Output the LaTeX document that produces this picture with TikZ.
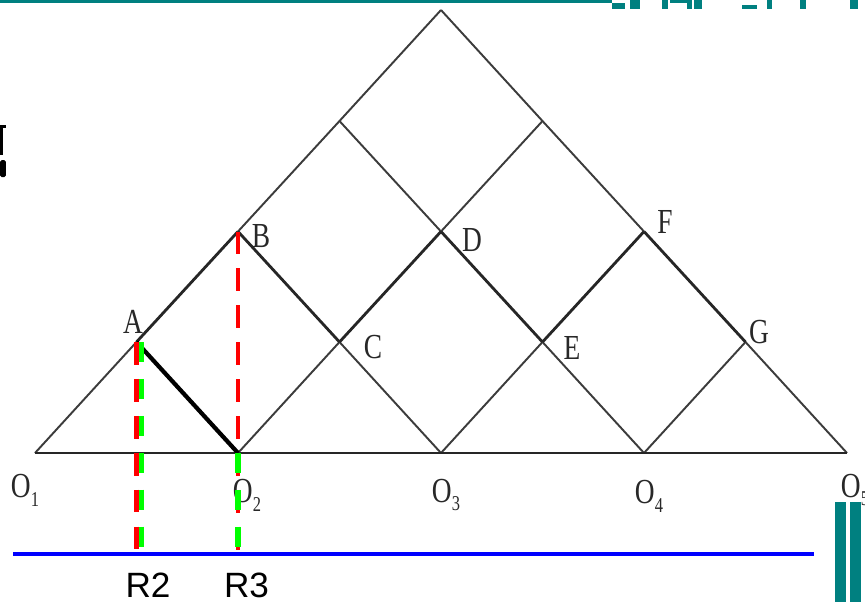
\documentclass[tikz,border=0pt]{standalone}
\usepackage{fontspec}
\setmainfont{Liberation Serif}
\setsansfont{Liberation Sans}
\newfontfamily\ptfont[FakeStretch=0.78]{Liberation Serif}
\definecolor{slideteal}{RGB}{0,128,128}
\definecolor{lineg}{RGB}{60,60,60}
\definecolor{labg}{RGB}{40,40,40}
\newcommand{\osub}[1]{O\raisebox{-2.5pt}{\fontsize{6}{6}\selectfont #1}}

\begin{document}
\begin{tikzpicture}
  [every node/.style={inner sep=0pt},
   gridline/.style={draw=lineg,line width=0.55pt},
   ray/.style={draw=black!85,line width=0.8pt},
   reddrop/.style={draw=red,line width=1.3pt,dash pattern=on 6.5pt off 4pt},
   greendrop/.style={draw=green,line width=1.6pt,dash pattern=on 5.7pt off 4.8pt},
   ptlabel/.style={text=labg,font=\ptfont\fontsize{10}{10}\selectfont},
   rlabel/.style={font=\sffamily\fontsize{10}{10}\selectfont}]
  \useasboundingbox (0,0) rectangle (8.65,-6.02);

  \coordinate (O1) at (0.35,-4.53);
  \coordinate (O2) at (2.38,-4.53);
  \coordinate (O3) at (4.41,-4.53);
  \coordinate (O4) at (6.44,-4.53);
  \coordinate (O5) at (8.47,-4.53);
  \coordinate (A) at (1.365,-3.42);
  \coordinate (C) at (3.395,-3.42);
  \coordinate (E) at (5.425,-3.42);
  \coordinate (G) at (7.455,-3.42);
  \coordinate (B) at (2.38,-2.315);
  \coordinate (D) at (4.41,-2.315);
  \coordinate (F) at (6.44,-2.315);
  \coordinate (P) at (3.395,-1.21);
  \coordinate (Q) at (5.425,-1.21);
  \coordinate (T) at (4.41,-0.10);

  \foreach \from/\to in {O1/A,B/P,P/T,T/Q,Q/F,G/O5,O2/C,D/Q,O3/E,O4/G,O4/E,D/P,O3/C}
    \draw[gridline] (\from) -- (\to);
  \draw[black!85,line width=0.75pt] (O1) -- (O5);
  \foreach \from/\to in {A/B,B/C,C/D,D/E,E/F,F/G}
    \draw[ray] (\from) -- (\to);
  \draw[black,line width=1.2pt] (A) -- (O2);

  \node[ptlabel] (lA) at (1.33,-3.22) {A};
  \node[ptlabel] (lB) at (2.61,-2.36) {B};
  \node[ptlabel] (lC) at (3.73,-3.47) {C};
  \node[ptlabel] (lD) at (4.72,-2.40) {D};
  \node[ptlabel] (lE) at (5.72,-3.48) {E};
  \node[ptlabel] (lF) at (6.65,-2.22) {F};
  \node[ptlabel] (lG) at (7.59,-3.32) {G};
  \node[ptlabel] (lO1) at (0.25,-4.90) {\osub{1}};
  \node[ptlabel] (lO2) at (2.47,-4.95) {\osub{2}};
  \node[ptlabel] (lO3) at (4.46,-4.95) {\osub{3}};
  \node[ptlabel] (lO4) at (6.49,-4.96) {\osub{4}};
  \node[ptlabel] (lO5) at (8.55,-4.90) {\osub{5}};

  % drop lines onto the ground line
  \coordinate (gL) at (0.13,-5.54);
  \coordinate (gR) at (8.14,-5.54);
  \coordinate (Ag) at ([xshift=1.4pt]A);
  \draw[reddrop] (A) -- (A |- gL);
  \draw[reddrop] (B) -- (B |- gL);
  \draw[greendrop] (Ag) -- (Ag |- gL);
  \draw[greendrop] (O2) -- (O2 |- gL);
  \draw[blue,line width=1.4pt] (gL) -- (gR);

  \node[rlabel] (r2) at (1.48,-5.855) {R2};
  \node[rlabel] (r3) at (2.465,-5.855) {R3};

  \fill[slideteal] (0,0) rectangle (6.12,-0.025);
  \foreach \xa/\xb/\ya/\yb in {6.12/6.25/0.03/0.09, 6.30/6.40/0/0.09, 6.62/6.68/0/0.09,
      6.70/6.87/0/0.03, 6.87/6.92/0/0.09, 6.94/7.02/0/0.09, 7.42/7.57/0.05/0.09,
      7.67/7.72/0/0.09, 8.00/8.06/0/0.09, 8.50/8.58/0/0.09}
    \fill[slideteal] (\xa,-\ya) rectangle (\xb,-\yb);
  \fill[slideteal] (8.35,-5.02) rectangle (8.46,-6.02);
  \fill[slideteal] (8.50,-5.02) rectangle (8.61,-6.02);
  \fill (0,-1.25) rectangle (0.03,-1.55);
  \fill (0,-1.25) rectangle (0.06,-1.28);
  \fill[rounded corners=0.5pt] (0,-1.60) rectangle (0.06,-1.77);
\end{tikzpicture}
\end{document}
